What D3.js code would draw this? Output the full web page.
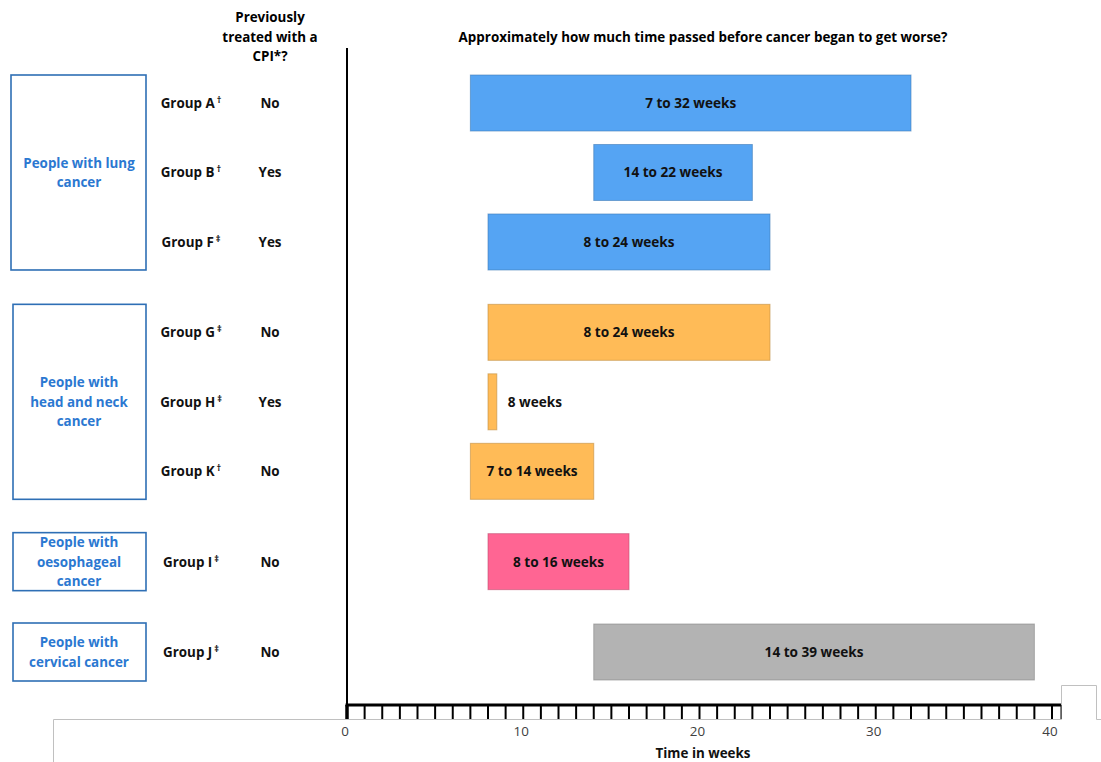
<!DOCTYPE html>
<html>
<head>
<meta charset="utf-8">
<script src="https://cdn.jsdelivr.net/npm/d3@7"></script>
<style>
  body { margin: 0; background: #fff; }
  svg text { font-family: "Open Sans", "Noto Sans", sans-serif; }
</style>
</head>
<body>
<div id="chart"></div>
<script>
// rows, top to bottom
var groups  = ["Group A", "Group B", "Group F", "Group G", "Group H", "Group K", "Group I", "Group J"];
var marks   = ["\u2020", "\u2020", "\u2021", "\u2021", "\u2021", "\u2020", "\u2021", "\u2021"];
var cpi     = ["No", "Yes", "Yes", "No", "Yes", "No", "No", "No"];
var cancer  = ["lung", "lung", "lung", "headneck", "headneck", "headneck", "oeso", "cervical"];
var starts  = [7, 14, 8, 8, 8, 7, 8, 14];
var ends    = [32, 23, 24, 24, 8.5, 14, 16, 39];
var barText = ["7 to 32 weeks", "14 to 22 weeks", "8 to 24 weeks", "8 to 24 weeks",
               "8 weeks", "7 to 14 weeks", "8 to 16 weeks", "14 to 39 weeks"];

var cancerKeys   = ["lung", "headneck", "oeso", "cervical"];
var cancerLabels = [["People with lung", "cancer"],
                    ["People with", "head and neck", "cancer"],
                    ["People with", "oesophageal", "cancer"],
                    ["People with", "cervical cancer"]];
var cancerColors = ["#55a4f3", "#ffbb57", "#ff6593", "#b3b3b3"];

var xTicks = [0, 10, 20, 30, 40];

var W = 1101, H = 762;
var svg = d3.select("#chart").append("svg")
    .attr("width", W).attr("height", H);

// slot index per row, with a small gap between cancer types
var slots = [];
var gapCount = 0;
for (var i = 0; i < groups.length; i++) {
  if (i > 0 && cancer[i] != cancer[i - 1]) gapCount++;
  slots.push(i + gapCount * 0.3);
}

var x = d3.scaleLinear().domain([0, 40]).range([347, 1052]);
var y = d3.scaleLinear().domain([0, 7.9]).range([103, 652]);
var barH = 56;
var color = d3.scaleOrdinal().domain(cancerKeys).range(cancerColors);

// grey frame bits at bottom
svg.append("path")
  .attr("d", "M53.5,762 V719.5 H1061.5 V685.5 H1096.5 V719.5 H1101")
  .attr("fill", "none")
  .attr("stroke", "#c0c0c0")
  .attr("stroke-width", 1);

// titles
svg.append("text")
  .attr("x", 703).attr("y", 42)
  .attr("text-anchor", "middle")
  .style("font-size", "13.4px").style("font-weight", "bold")
  .text("Approximately how much time passed before cancer began to get worse?");

var head = svg.append("text")
  .attr("text-anchor", "middle")
  .style("font-size", "13.4px").style("font-weight", "bold");
["Previously", "treated with a", "CPI*?"].forEach(function(t, k) {
  head.append("tspan").attr("x", 270).attr("y", 22 + k * 19.5).text(t);
});

// bars
var rows = groups.map(function(g, i) { return i; });

svg.selectAll(".bar")
  .data(rows)
  .enter().append("rect")
    .attr("class", "bar")
    .attr("x", function(i) { return x(starts[i]); })
    .attr("y", function(i) { return y(slots[i]) - barH / 2; })
    .attr("width", function(i) { return x(ends[i]) - x(starts[i]); })
    .attr("height", barH)
    .attr("fill", function(i) { return color(cancer[i]); })
    .attr("stroke", function(i) { return d3.color(color(cancer[i])).darker(0.8); })
    .attr("stroke-opacity", 0.6)
    .attr("stroke-width", 1);

svg.selectAll(".barlabel")
  .data(rows)
  .enter().append("text")
    .attr("class", "barlabel")
    .attr("x", function(i) {
      var w = x(ends[i]) - x(starts[i]);
      return w < 40 ? x(ends[i]) + 11 : (x(starts[i]) + x(ends[i])) / 2;
    })
    .attr("y", function(i) { return y(slots[i]) + 5; })
    .attr("text-anchor", function(i) { return (x(ends[i]) - x(starts[i])) < 40 ? "start" : "middle"; })
    .style("font-size", "13.6px").style("font-weight", "bold")
    .attr("fill", "#111")
    .text(function(i) { return barText[i]; });

// group names + CPI column
var gl = svg.selectAll(".grp")
  .data(rows)
  .enter().append("text")
    .attr("class", "grp")
    .attr("x", 191)
    .attr("y", function(i) { return y(slots[i]) + 5; })
    .attr("text-anchor", "middle")
    .style("font-size", "13.4px").style("font-weight", "bold")
    .attr("fill", "#111");
gl.append("tspan").text(function(i) { return groups[i]; });
gl.append("tspan")
  .attr("dy", "-5").attr("dx", "2")
  .style("font-size", "9px")
  .text(function(i) { return marks[i]; });

svg.selectAll(".cpi")
  .data(rows)
  .enter().append("text")
    .attr("class", "cpi")
    .attr("x", 270)
    .attr("y", function(i) { return y(slots[i]) + 5; })
    .attr("text-anchor", "middle")
    .style("font-size", "13.4px").style("font-weight", "bold")
    .attr("fill", "#111")
    .text(function(i) { return cpi[i]; });

// cancer boxes on the left
cancerKeys.forEach(function(key, k) {
  var idx = rows.filter(function(i) { return cancer[i] == key; });
  var top = y(slots[idx[0]]) - barH / 2;
  var bot = y(slots[idx[idx.length - 1]]) + barH / 2;
  if (idx.length == 1) { top -= 1; bot += 1; }
  var x0 = k == 0 ? 11 : 13;
  svg.append("rect")
    .attr("x", x0).attr("y", top)
    .attr("width", 146 - x0).attr("height", bot - top)
    .attr("fill", "none")
    .attr("stroke", "#2e6fb5")
    .attr("stroke-width", 1.6);
  var lines = cancerLabels[k];
  var t = svg.append("text")
    .attr("text-anchor", "middle")
    .style("font-size", "13.4px").style("font-weight", "bold")
    .attr("fill", "#2b78d1");
  var mid = (top + bot) / 2;
  lines.forEach(function(s, j) {
    t.append("tspan")
      .attr("x", 79)
      .attr("y", mid + 5 + (j - (lines.length - 1) / 2) * 19.5)
      .text(s);
  });
});

// vertical axis line
svg.append("line")
  .attr("x1", 347).attr("x2", 347)
  .attr("y1", 48).attr("y2", 705)
  .attr("stroke", "#000").attr("stroke-width", 2);

// bottom axis
var axis = svg.append("g").attr("transform", "translate(0,705)");
axis.append("line")
  .attr("x1", 345.5).attr("x2", 1061)
  .attr("stroke", "#000").attr("stroke-width", 3);
axis.selectAll(".tk")
  .data(d3.range(0, 41))
  .enter().append("line")
    .attr("class", "tk")
    .attr("x1", function(d) { return x(d); })
    .attr("x2", function(d) { return x(d); })
    .attr("y1", 0).attr("y2", 14)
    .attr("stroke", "#000")
    .attr("stroke-width", function(d) { return d == 0 ? 3.5 : 2; });
axis.append("line")
  .attr("x1", 1061).attr("x2", 1061)
  .attr("y1", 0).attr("y2", 14)
  .attr("stroke", "#000").attr("stroke-width", 1);

axis.selectAll(".tl")
  .data(xTicks)
  .enter().append("text")
    .attr("class", "tl")
    .attr("x", function(d) { return x(d) - 2; })
    .attr("y", 31)
    .attr("text-anchor", "middle")
    .style("font-size", "13.4px")
    .attr("fill", "#404040")
    .text(function(d) { return d; });

svg.append("text")
  .attr("x", 703).attr("y", 758)
  .attr("text-anchor", "middle")
  .style("font-size", "13.4px").style("font-weight", "bold")
  .attr("fill", "#111")
  .text("Time in weeks");
</script>
</body>
</html>
